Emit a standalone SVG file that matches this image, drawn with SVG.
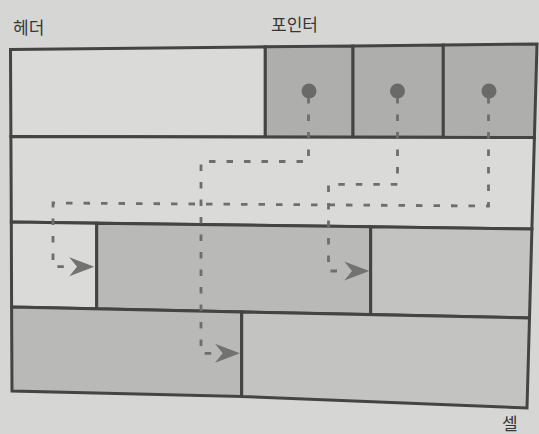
<svg xmlns="http://www.w3.org/2000/svg" width="539" height="434" viewBox="0 0 539 434">
  <style>
    .cell { stroke: #444444; stroke-width: 3; stroke-linejoin: miter; }
    .light { fill: #dadad8; }
    .dark { fill: #aeaeac; }
    .mid { fill: #b9b9b7; }
    .midl { fill: #c3c3c1; }
    .dot { fill: #6a6a6a; }
    .conn { fill: none; stroke: #6e6e6e; stroke-width: 2.8; stroke-dasharray: 6.5 11; stroke-linecap: butt; stroke-linejoin: miter; }
    .label { font-family: "Noto Sans CJK KR", "Noto Sans", sans-serif; font-size: 17px; fill: #363636; }
  </style>
  <defs>
    <marker id="arrow" viewBox="0 0 30 20" refX="0" refY="10" markerWidth="30" markerHeight="20" markerUnits="userSpaceOnUse" orient="auto">
      <path d="M28,10 L3,0.5 L10.7,10 L3,19.5 Z" fill="#727272"/>
    </marker>
  </defs>

  <rect x="0" y="0" width="539" height="434" fill="#d6d6d4"/>

  <g id="label-header"><text class="label" x="13" y="34">헤더</text></g>
  <g id="label-pointer"><text class="label" x="271" y="31">포인터</text></g>
  <g id="label-cell"><text class="label" x="502" y="430">셀</text></g>

  <g id="header">
    <polygon class="cell light" points="10.5,49.5 265.3,46.8 265.3,137 10.9,136.5"/>
  </g>
  <g id="pointer1">
    <polygon class="cell dark" points="265.3,46.8 353,45.9 353,137.2 265.3,137"/>
    <circle class="dot" cx="309" cy="91" r="7.5"/>
  </g>
  <g id="pointer2">
    <polygon class="cell dark" points="353,45.9 443.3,45 443.3,137.3 353,137.2"/>
    <circle class="dot" cx="397.5" cy="91" r="7.5"/>
  </g>
  <g id="pointer3">
    <polygon class="cell dark" points="443.3,45 537,44 534.4,137.5 443.3,137.3"/>
    <circle class="dot" cx="489" cy="91" r="7.5"/>
  </g>
  <g id="free-space">
    <polygon class="cell light" points="10.9,136.5 534.4,137.5 531.9,229 11.3,222"/>
  </g>
  <g id="cell-a">
    <polygon class="cell light" points="11.3,222 96.7,223.2 96.7,308.8 11.6,307"/>
  </g>
  <g id="cell-b">
    <polygon class="cell mid" points="96.7,223.2 370.7,226.8 370.7,314.6 96.7,308.8"/>
  </g>
  <g id="cell-c">
    <polygon class="cell midl" points="370.7,226.8 531.9,229 529.5,318 370.7,314.6"/>
  </g>
  <g id="cell-d">
    <polygon class="cell mid" points="11.6,307 241.7,311.9 241.7,396.5 12,391"/>
  </g>
  <g id="cell-e">
    <polygon class="cell midl" points="241.7,311.9 529.5,318 527,408 241.7,396.5"/>
  </g>

  <g id="connectors">
    <path class="conn" d="M308.5,97 V161.5 H201 V353.3 H212" marker-end="url(#arrow)"/>
    <path class="conn" d="M397.5,97 V184.3 H328.5 V271 H341.3" marker-end="url(#arrow)"/>
    <path class="conn" d="M488.5,97 V206 L53,203 V266.7 H66.3" marker-end="url(#arrow)"/>
  </g>
</svg>
